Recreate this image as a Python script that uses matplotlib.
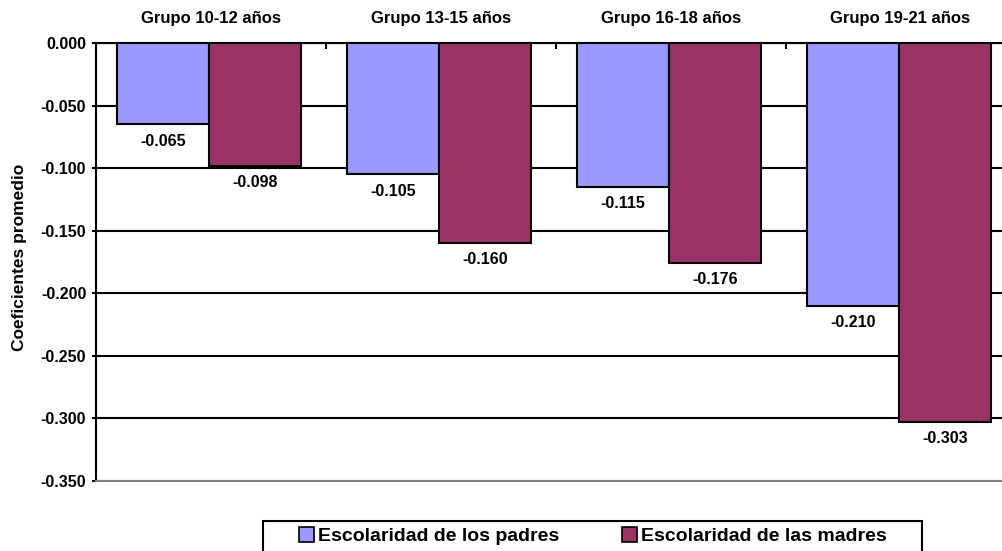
import matplotlib
matplotlib.use("Agg")
import matplotlib.pyplot as plt
from matplotlib.patches import Patch, Rectangle
import numpy as np

plt.rcParams['font.family'] = ['Liberation Sans', 'DejaVu Sans']
plt.rcParams['font.weight'] = 'bold'

grupos = ["Grupo 10-12 años", "Grupo 13-15 años", "Grupo 16-18 años", "Grupo 19-21 años"]
padres = [-0.065, -0.105, -0.115, -0.210]
madres = [-0.098, -0.160, -0.176, -0.303]
series_names = ["Escolaridad de los padres", "Escolaridad de las madres"]
color_padres = "#9999FF"
color_madres = "#993366"
yticks = [0.0, -0.05, -0.10, -0.15, -0.20, -0.25, -0.30, -0.35]

fig = plt.figure(figsize=(10.03, 5.51), dpi=100)
ax = fig.add_axes([96 / 1003, 1 - 481 / 551, 919.5 / 1003, 438 / 551])

x = np.arange(len(grupos))
w = 0.4
b1 = ax.bar(x + 0.292, padres, width=w, color=color_padres, edgecolor="black", linewidth=1.5, zorder=3)
b2 = ax.bar(x + 0.692, madres, width=w, color=color_madres, edgecolor="black", linewidth=1.5, zorder=3)

for bars, vals in ((b1, padres), (b2, madres)):
    for rect, v in zip(bars, vals):
        ax.annotate(f"{v:.3f}", xy=(rect.get_x() + rect.get_width() / 2, v),
                    xytext=(0, -12), textcoords="offset points",
                    ha="center", va="center", fontsize=11.5, fontweight="bold",
                    bbox=dict(boxstyle="square,pad=0.25", fc="white", ec="none"),
                    zorder=4)

ax.set_xlim(0, len(grupos))
ax.set_ylim(-0.35, 0.0)
ax.set_yticks(yticks)
ax.set_yticklabels([f"{t:.3f}" for t in yticks], fontsize=11.5, fontweight="bold")
ax.tick_params(axis="y", direction="out", length=3, width=1.5, pad=4)

# category axis on top: labels at group centres, small inward ticks at boundaries
ax.xaxis.tick_top()
ax.set_xticks(x + 0.5)
ax.set_xticklabels(grupos, fontsize=12, fontweight="bold")
ax.tick_params(axis="x", which="major", length=0, pad=12)
ax.set_xticks(np.arange(1, len(grupos)), minor=True)
ax.tick_params(axis="x", which="minor", direction="in", length=4, width=1.5, top=True, bottom=False)

ax.yaxis.grid(True, color="black", linewidth=1.5, zorder=0)
ax.set_axisbelow(True)
ax.spines["right"].set_visible(False)
ax.spines["top"].set_linewidth(1.5)
ax.spines["left"].set_linewidth(1.5)
ax.spines["bottom"].set_color("#808080")
ax.spines["bottom"].set_linewidth(1.5)

ax.set_ylabel("Coeficientes promedio", fontsize=12.5, fontweight="bold")
ax.yaxis.set_label_coords(-0.0755, 0.51)

# legend box
fw, fh = 1003, 551
frame = Rectangle((263 / fw, 0.0 - 10 / fh), (922 - 263) / fw, (551 + 10 - 520.5) / fh,
                  transform=fig.transFigure, fill=False, edgecolor="black", linewidth=1.5)
fig.patches.append(frame)
handles = [Patch(facecolor=color_padres, edgecolor="black", linewidth=1.2),
           Patch(facecolor=color_madres, edgecolor="black", linewidth=1.2)]
fig.legend(handles, series_names, loc="upper left", bbox_to_anchor=(293 / fw, 1 - 521 / fh),
           ncol=2, frameon=False, prop={"weight": "bold", "size": 14},
           handlelength=0.8, handleheight=0.8, handletextpad=0.2, columnspacing=3.2,
           borderpad=0.3, borderaxespad=0)

fig.savefig("out.png", dpi=100)
